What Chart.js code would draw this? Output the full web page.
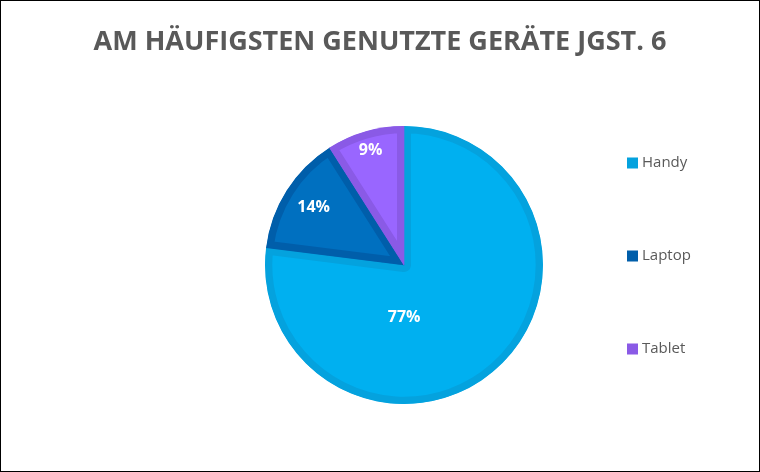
<!DOCTYPE html>
<html>
<head>
<meta charset="utf-8">
<script src="https://cdn.jsdelivr.net/npm/chart.js@4"></script>
<style>
  html, body { margin: 0; padding: 0; background: #fff; }
  #frame {
    width: 760px; height: 472px;
    box-sizing: border-box;
    border: 1px solid #000;
    background: #fff;
  }
  #frame canvas { display: block; }
</style>
</head>
<body>
<div id="frame"><canvas id="chart" width="758" height="470"></canvas></div>
<script>
// Daten
const titleText = 'AM HÄUFIGSTEN GENUTZTE GERÄTE JGST. 6';
const categories = ['Handy', 'Laptop', 'Tablet'];
const shares = [77, 14, 9];
const fillColors = ['#00B0F0', '#0070C0', '#9966FF'];
const edgeColors = ['#04A2DE', '#005EAA', '#8A5AE6'];

const grey = '#595959';

// Titel oben mittig (eigene Zeichnung, damit das Layout-Padding ihn nicht verschiebt)
const chartTitle = {
  id: 'chartTitle',
  afterDraw(chart, args, opts) {
    const ctx = chart.ctx;
    ctx.save();
    ctx.fillStyle = grey;
    ctx.font = 'bold 27px "Open Sans"';
    ctx.letterSpacing = opts.spacing;
    ctx.textAlign = 'center';
    ctx.textBaseline = 'middle';
    ctx.fillText(titleText, chart.width / 2, opts.y);
    ctx.restore();
  }
};

// Legende rechts, Abstand wie im Original
const sideLegend = {
  id: 'sideLegend',
  afterDraw(chart, args, opts) {
    const ctx = chart.ctx;
    const area = chart.chartArea;
    const cy = (area.top + area.bottom) / 2 + opts.shift;
    const x = area.right + opts.gap;
    ctx.save();
    ctx.font = '15px "Open Sans"';
    ctx.textBaseline = 'middle';
    categories.forEach((c, i) => {
      const y = cy + (i - (categories.length - 1) / 2) * opts.step;
      ctx.fillStyle = edgeColors[i];
      ctx.fillRect(x, y - 5.5, 11, 11);
      ctx.fillStyle = grey;
      ctx.fillText(c, x + 15, y);
    });
    ctx.restore();
  }
};

// Prozent-Labels in die Segmente schreiben
const sliceLabels = {
  id: 'sliceLabels',
  afterDatasetsDraw(chart, args, opts) {
    const ctx = chart.ctx;
    const meta = chart.getDatasetMeta(0);
    ctx.save();
    ctx.fillStyle = '#fff';
    ctx.font = 'bold 16px "Open Sans"';
    ctx.textAlign = 'center';
    ctx.textBaseline = 'middle';
    meta.data.forEach((arc, i) => {
      const p = arc.getProps(['x', 'y', 'startAngle', 'endAngle', 'outerRadius'], true);
      const a = (p.startAngle + p.endAngle) / 2 + (opts.turn[i] || 0);
      const r = p.outerRadius * opts.frac[i];
      ctx.fillText(shares[i] + '%', p.x + Math.cos(a) * r, p.y + Math.sin(a) * r);
    });
    ctx.restore();
  }
};

new Chart(document.getElementById('chart'), {
  type: 'pie',
  data: {
    labels: categories,
    datasets: [{
      data: shares,
      backgroundColor: fillColors,
      borderColor: edgeColors,
      borderWidth: 7,
      borderAlign: 'inner'
    }]
  },
  options: {
    responsive: false,
    animation: false,
    layout: { padding: { left: 264, right: 216, top: 125, bottom: 67 } },
    plugins: {
      title: { display: false },
      legend: { display: false },
      tooltip: { enabled: false },
      chartTitle: { y: 41, spacing: '0px' },
      sideLegend: { gap: 84, step: 93, shift: -9 },
      sliceLabels: {
        frac: [0.38, 0.77, 0.86],
        turn: [0.72, 0, 0]
      }
    }
  },
  plugins: [sliceLabels, chartTitle, sideLegend]
});
</script>
</body>
</html>
